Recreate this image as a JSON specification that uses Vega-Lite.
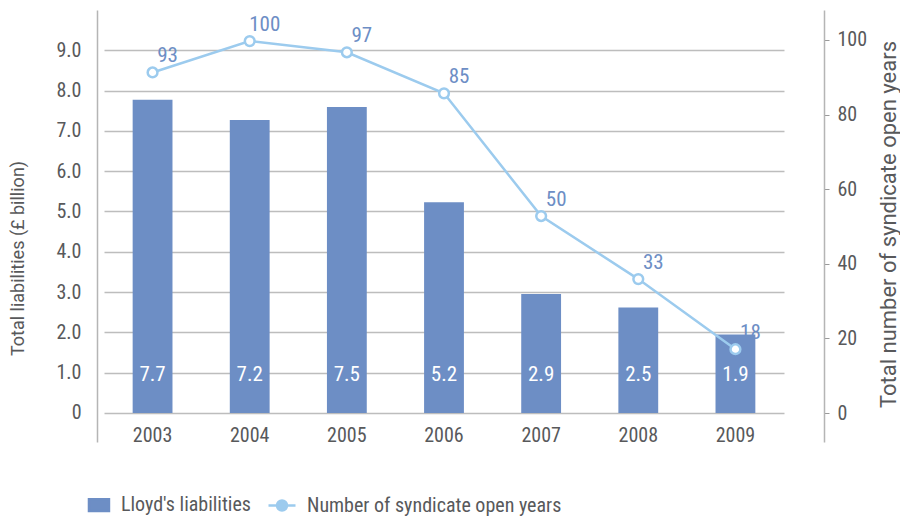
{
  "$schema": "https://vega.github.io/schema/vega-lite/v6.json",
  "autosize": "none",
  "width": 727,
  "height": 432,
  "padding": {"left": 97, "top": 10, "right": 76, "bottom": 74},
  "background": "white",
  "config": {
    "view": {"stroke": null},
    "font": "Noto Sans Condensed, Roboto Condensed, Open Sans Condensed, DejaVu Sans Condensed, sans-serif",
    "axis": {"labelFont": "Noto Sans Condensed, Roboto Condensed, Open Sans Condensed, DejaVu Sans Condensed, sans-serif", "labelColor": "#58595b", "titleFont": "Roboto, sans-serif", "titleColor": "#58595b", "titleFontWeight": "normal"},
    "legend": {"labelFont": "Noto Sans Condensed, Roboto Condensed, Open Sans Condensed, DejaVu Sans Condensed, sans-serif"}
  },
  "data": {
    "values": [
      {"year": "2003", "liabilities": 7.77, "liab_label": "7.7", "open_years": 91.3, "years_label": "93"},
      {"year": "2004", "liabilities": 7.27, "liab_label": "7.2", "open_years": 99.7, "years_label": "100"},
      {"year": "2005", "liabilities": 7.59, "liab_label": "7.5", "open_years": 96.7, "years_label": "97"},
      {"year": "2006", "liabilities": 5.23, "liab_label": "5.2", "open_years": 85.7, "years_label": "85"},
      {"year": "2007", "liabilities": 2.95, "liab_label": "2.9", "open_years": 52.8, "years_label": "50"},
      {"year": "2008", "liabilities": 2.62, "liab_label": "2.5", "open_years": 35.9, "years_label": "33"},
      {"year": "2009", "liabilities": 1.95, "liab_label": "1.9", "open_years": 17.1, "years_label": "18"}
    ]
  },
  "encoding": {
    "x": {
      "field": "year", "type": "nominal",
      "scale": {"range": [7, 687], "paddingInner": 0.59, "paddingOuter": 0.295},
      "axis": {"title": null, "domain": false, "ticks": false, "labelAngle": 0, "labelFontSize": 20, "labelBaseline": "alphabetic", "labelPadding": -1}
    }
  },
  "layer": [
    {
      "layer": [
        {
          "mark": {"type": "bar", "color": "#6d8ec5"},
          "encoding": {
            "y": {
              "field": "liabilities", "type": "quantitative",
              "scale": {"domain": [-0.72, 10], "nice": false, "zero": false},
              "axis": {
                "orient": "left", "values": [0, 1, 2, 3, 4, 5, 6, 7, 8, 9],
                "labelExpr": "datum.value == 0 ? '0' : format(datum.value, '.1f')",
                "labelFontSize": 20, "labelPadding": 16, "ticks": false,
                "grid": true, "gridColor": "#bdbdbd", "gridWidth": 1.5,
                "domain": true, "domainColor": "#b5b5b5", "domainWidth": 1.5,
                "title": "Total liabilities (£ billion)", "titleFontSize": 18,
                "titleX": -74, "titleY": 248, "titleBaseline": "alphabetic", "titleAngle": -90
              }
            },
            "y2": {"datum": 0},
            "color": {
              "datum": "Lloyd's liabilities",
              "scale": {"domain": ["Lloyd's liabilities", "Number of syndicate open years"], "range": ["#6d8ec5", "#9ccbee"]},
              "legend": {
                "title": null, "orient": "none", "direction": "horizontal",
                "legendX": -16, "legendY": 480,
                "labelFontSize": 20, "labelColor": "#58595b", "labelOffset": 10, "columnPadding": 12, "labelLimit": 500,
                "symbolSize": 729,
                "encode": {
                  "symbols": {
                    "update": {
                      "shape": {"signal": "datum.index == 0 ? 'M-0.52,-0.43H0.96V0.43H-0.52Z' : 'M-1,0H-0.37 M0.37,0H1 M-0.37,0A0.37,0.37 0 1,1 0.37,0A0.37,0.37 0 1,1 -0.37,0Z'"},
                      "fill": {"signal": "datum.index == 0 ? '#6d8ec5' : '#ffffff'"},
                      "stroke": {"signal": "datum.index == 0 ? 'transparent' : '#9ccbee'"},
                      "strokeWidth": {"value": 2.5},
                      "opacity": {"value": 1},
                      "fillOpacity": {"value": 1},
                      "size": {"value": 729}
                    }
                  }
                }
              }
            }
          }
        },
        {
          "mark": {"type": "text", "color": "white", "fontSize": 21, "baseline": "middle", "dy": -38},
          "encoding": {
            "y": {"datum": 0, "type": "quantitative"},
            "text": {"field": "liab_label"}
          }
        }
      ]
    },
    {
      "layer": [
        {
          "mark": {"type": "line", "strokeWidth": 2.5, "point": {"filled": false, "fill": "white", "size": 95, "strokeWidth": 2.5}},
          "encoding": {
            "y": {
              "field": "open_years", "type": "quantitative",
              "scale": {"domain": [-7.77, 108.04], "nice": false, "zero": false},
              "axis": {
                "orient": "right", "values": [0, 20, 40, 60, 80, 100],
                "labelFontSize": 20, "labelPadding": 8, "ticks": true, "tickSize": 5, "tickColor": "#9a9a9a",
                "grid": false, "domain": true, "domainColor": "#b5b5b5", "domainWidth": 1.5,
                "title": "Total number of syndicate open years", "titleFontSize": 22,
                "titleX": 71, "titleY": 214, "titleBaseline": "alphabetic", "titleAngle": -90
              }
            },
            "color": {"datum": "Number of syndicate open years"}
          }
        },
        {
          "mark": {"type": "text", "color": "#6d8ec5", "fontSize": 21, "dx": 15, "dy": -16, "baseline": "middle"},
          "encoding": {
            "y": {"field": "open_years", "type": "quantitative"},
            "text": {"field": "years_label"}
          }
        }
      ],
      "resolve": {"scale": {"y": "shared"}}
    }
  ],
  "resolve": {"scale": {"y": "independent"}}
}
